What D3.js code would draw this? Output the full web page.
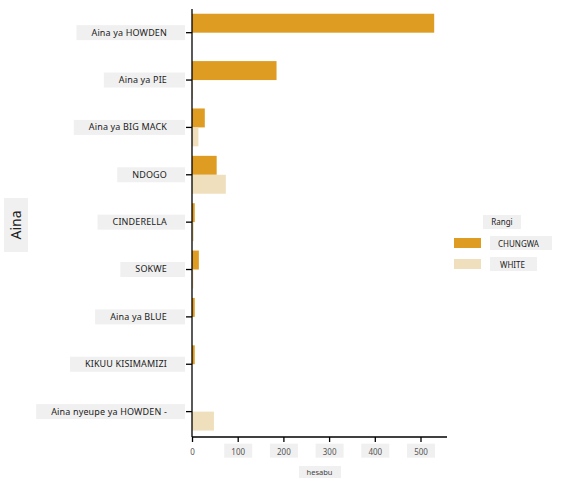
<!DOCTYPE html>
<html>
<head>
<meta charset="utf-8">
<script src="https://cdn.jsdelivr.net/npm/d3@7"></script>
<style>
  body { margin: 0; background: #fff; }
  text { font-family: "Noto Sans", sans-serif; }
</style>
</head>
<body>
<div id="chart"></div>
<script>
const categories = [
  "Aina ya HOWDEN",
  "Aina ya PIE",
  "Aina ya BIG MACK",
  "NDOGO",
  "CINDERELLA",
  "SOKWE",
  "Aina ya BLUE",
  "KIKUU KISIMAMIZI",
  "Aina nyeupe ya HOWDEN -"
];
const seriesNames = ["CHUNGWA", "WHITE"];
const chungwa = [530, 185, 28, 54, 6, 15, 6, 6, 0];
const white = [0, 2, 14, 74, 4, 3, 0, 0, 48];
const xTicks = [0, 100, 200, 300, 400, 500];
const colors = ["#de9c22", "#f0dfbc"];

const w = 564, h = 489;
const margin = { top: 9, right: 117, bottom: 54, left: 192 };

const data = categories.map((c, i) => ({ cat: c, values: [chungwa[i], white[i]] }));

const svg = d3.select("#chart").append("svg").attr("width", w).attr("height", h);

const x = d3.scaleLinear().domain([0, 558]).range([margin.left, w - margin.right]);
const y = d3.scaleBand().domain(categories).range([margin.top, h - margin.bottom + 0.3])
  .paddingInner(0.2).paddingOuter(0.1);
const ySub = d3.scaleBand().domain(seriesNames).range([0, y.bandwidth()]);

// bars
svg.append("g").selectAll("g").data(data).join("g")
  .attr("transform", (d) => `translate(0,${y(d.cat)})`)
  .selectAll("rect").data((d) => d.values.map((v, j) => ({ v, s: seriesNames[j], j })))
  .join("rect")
  .attr("x", x(0))
  .attr("y", (d) => ySub(d.s))
  .attr("width", (d) => x(d.v) - x(0))
  .attr("height", ySub.bandwidth())
  .attr("fill", (d) => colors[d.j]);

// y axis
const yAxis = svg.append("g").attr("transform", `translate(${margin.left},0)`)
  .call(d3.axisLeft(y).tickSize(6).tickPadding(19));
yAxis.select(".domain").attr("stroke", "#000").attr("stroke-width", 1.3).attr("d", `M0,${margin.top}V${h - margin.bottom + 2}`);
yAxis.selectAll(".tick line").attr("stroke", "#000").attr("stroke-width", 1.3);
yAxis.selectAll(".tick text").attr("font-size", 9).attr("fill", "#222")
  .attr("letter-spacing", 0.15)
  .attr("font-family", "Noto Sans, sans-serif");
yAxis.selectAll(".tick").each(function () {
  const b = d3.select(this).select("text").node().getBBox();
  d3.select(this).insert("rect", "text")
    .attr("x", b.x - 15).attr("y", -7.5)
    .attr("width", -7 - (b.x - 15)).attr("height", 15)
    .attr("fill", "#f0f0f0");
});

// x axis
const xAxis = svg.append("g").attr("transform", `translate(0,${h - margin.bottom + 2})`)
  .call(d3.axisBottom(x).tickValues(xTicks).tickSize(5).tickPadding(7));
xAxis.select(".domain").attr("stroke", "#000").attr("stroke-width", 1.3).attr("d", `M${margin.left},0H${w - margin.right}`);
xAxis.selectAll(".tick line").attr("stroke", "#000").attr("stroke-width", 1.3);
xAxis.selectAll(".tick text").attr("font-size", 8).attr("fill", "#555")
  .attr("font-family", "Noto Sans, sans-serif");
xAxis.selectAll(".tick").each(function (d) {
  if (d === 0) return;
  const b = d3.select(this).select("text").node().getBBox();
  d3.select(this).insert("rect", "text")
    .attr("x", -14).attr("y", b.y - 2).attr("width", 28).attr("height", 14)
    .attr("fill", "#f0f0f0");
});

// x title
const xt = svg.append("g");
xt.append("text").attr("x", (x(0) + x(558)) / 2).attr("y", 475)
  .attr("text-anchor", "middle").attr("font-size", 7.5).attr("fill", "#444").text("hesabu");
xt.insert("rect", "text").attr("x", 299).attr("y", 466).attr("width", 42).attr("height", 12).attr("fill", "#f0f0f0");

// y title
const yt = svg.append("g").attr("transform", "translate(16,225) rotate(-90)");
yt.append("rect").attr("x", -27).attr("y", -12).attr("width", 54).attr("height", 24).attr("fill", "#f0f0f0");
yt.append("text").attr("y", 5).attr("text-anchor", "middle").attr("font-size", 14).attr("fill", "#222").text("Aina");

// legend
const lg = svg.append("g");
lg.append("rect").attr("x", 483).attr("y", 215).attr("width", 38).attr("height", 14).attr("fill", "#f0f0f0");
lg.append("text").attr("x", 502).attr("y", 225).attr("text-anchor", "middle").attr("font-size", 8).attr("fill", "#222").text("Rangi");
const items = lg.selectAll("g.item").data(seriesNames).join("g").attr("class", "item")
  .attr("transform", (d, i) => `translate(454,${238 + i * 21})`);
items.append("rect").attr("width", 27).attr("height", 10).attr("fill", (d, i) => colors[i]);
items.append("rect").attr("x", 36).attr("y", -2).attr("width", (d, i) => (i === 0 ? 62 : 47)).attr("height", 14).attr("fill", "#f0f0f0");
items.append("text").attr("x", (d, i) => (i === 0 ? 44 : 46)).attr("y", 8.5).attr("font-size", 8).attr("fill", "#222").text((d) => d);
</script>
</body>
</html>
